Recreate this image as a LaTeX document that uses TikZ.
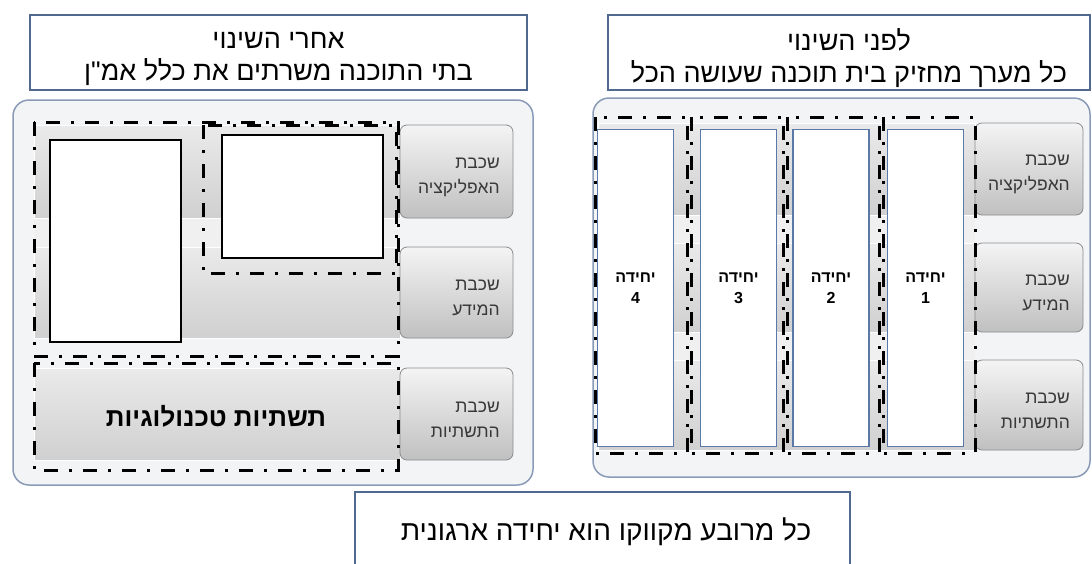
\documentclass[tikz,border=0pt]{standalone}
\usepackage{fontspec}
\newfontfamily\hebfont[Script=Hebrew]{Liberation Sans}
\TeXXeTstate=1
\newcommand{\heb}[1]{\beginR #1\endR}
\definecolor{frameblue}{HTML}{50698F}
\definecolor{panelline}{HTML}{8A9BB8}
\definecolor{panelfill}{HTML}{F3F4F6}
\definecolor{labeltop}{HTML}{F4F4F4}
\definecolor{labelbottom}{HTML}{C0C0C0}
\definecolor{labelline}{HTML}{8C8C8C}
\definecolor{bandtop}{HTML}{EAEAEA}
\definecolor{bandbottom}{HTML}{D0D0D0}
\definecolor{colline}{HTML}{5B79A6}
\definecolor{labeltext}{HTML}{383838}

\begin{document}
\begin{tikzpicture}[x=1pt, y=-1pt,
  titlebox/.style={draw=frameblue, line width=2pt, fill=white},
  titletext/.style={align=center, font=\hebfont\fontsize{27}{32}\selectfont},
  panel/.style={draw=panelline, line width=1.5pt, fill=panelfill, rounded corners=16pt},
  layerlabel/.style={draw=labelline, line width=0.8pt, rounded corners=7pt, top color=labeltop, bottom color=labelbottom},
  labeltext/.style={anchor=east, inner sep=0pt, text width=90pt, align=right, text=labeltext,
    font=\hebfont\fontsize{17.5}{25}\selectfont},
  layerband/.style={top color=bandtop, bottom color=bandbottom},
  unitcol/.style={draw=colline, line width=1.2pt, fill=white, minimum width=76pt, minimum height=317pt,
    align=center, font=\hebfont\bfseries\fontsize{16}{21}\selectfont},
  blankbox/.style={draw=black, line width=1.2pt, fill=white},
  orgunit/.style={line width=3pt, dash pattern=on 14pt off 11pt on 3pt off 11pt}]

    \clip (0,0) rectangle (1092,563);
    \fill[white] (0,0) rectangle (1092,563);

    % after the change
    \draw[titlebox] (30,15) rectangle (527,90);
    \node[titletext] (afterTitle) at (278.5,58.5) {\heb{אחרי השינוי}\\\heb{בתי התוכנה משרתים את כלל אמ"ן}};
    \draw[panel] (13,100) rectangle (533,485);
    \fill[bandtop!70!white] (34,125) rectangle (400,338);
    \draw[layerband, draw=white] (34,125) rectangle (400,218);
    \draw[layerband, draw=white] (34,247) rectangle (400,338);
    \draw[layerband, draw=white] (34,368) rectangle (400,460);
    \draw[layerlabel] (400,125) rectangle (513,218);
    \draw[layerlabel] (400,247) rectangle (513,338);
    \draw[layerlabel] (400,368) rectangle (513,460);
    \node[labeltext] (appAfter) at (500,177) {\heb{שכבת}\\\heb{האפליקציה}};
    \node[labeltext] (dataAfter) at (500,298) {\heb{שכבת}\\\heb{המידע}};
    \node[labeltext] (infraAfter) at (500,419.5) {\heb{שכבת}\\\heb{התשתיות}};
    \node[font=\hebfont\bfseries\fontsize{26}{30}\selectfont] (infraText) at (216,416) {\heb{תשתיות טכנולוגיות}};
    \draw[blankbox] (50,140) rectangle (181,342);
    \draw[blankbox] (222,135) rectangle (383,258);
    \draw[orgunit] (34,122) rectangle (398,356);
    \draw[orgunit] (203,125) rectangle (396,273);
    \draw[orgunit] (34,363) rectangle (398,470);

    % before the change
    \draw[titlebox] (608,15) rectangle (1090,90);
    \node[titletext] (beforeTitle) at (849,58.5) {\heb{לפני השינוי}\\\heb{כל מערך מחזיק בית תוכנה שעושה הכל}};
    \draw[panel] (593,98) rectangle (1090,477);
    \fill[bandtop!70!white] (598,123) rectangle (975,450);
    \draw[layerband, draw=white] (598,123) rectangle (975,215);
    \draw[layerband, draw=white] (598,243) rectangle (975,332);
    \draw[layerband, draw=white] (598,360) rectangle (975,450);
    \draw[layerlabel] (975,123) rectangle (1083,215);
    \draw[layerlabel] (975,243) rectangle (1083,332);
    \draw[layerlabel] (975,360) rectangle (1083,450);
    \node[labeltext] (appBefore) at (1070,174.5) {\heb{שכבת}\\\heb{האפליקציה}};
    \node[labeltext] (dataBefore) at (1070,293) {\heb{שכבת}\\\heb{המידע}};
    \node[labeltext] (infraBefore) at (1070,410.5) {\heb{שכבת}\\\heb{התשתיות}};
    \foreach \n/\x in {4/635.5, 3/738.5, 2/831, 1/925.5}
        \node[unitcol] (unit\n) at (\x,288) {\heb{יחידה}\\\n};
    \foreach \a/\b in {595/687, 691/783, 787/879, 883/975}
        \draw[orgunit] (\a,117) rectangle (\b,453);

    % legend
    \draw[draw=frameblue, line width=2pt, fill=white] (355,492) rectangle (850,590);
    \node[font=\hebfont\fontsize{28}{30}\selectfont] (legend) at (606,532) {\heb{כל מרובע מקווקו הוא יחידה ארגונית}};

\end{tikzpicture}
\end{document}
